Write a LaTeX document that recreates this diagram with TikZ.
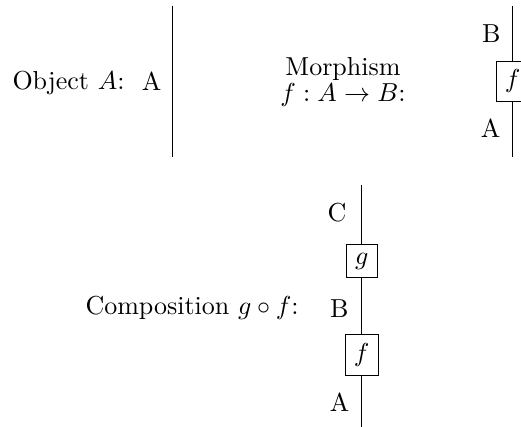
\documentclass[tikz,border=0pt]{standalone}
\begin{document}
\begin{tikzpicture}[x=0.3846pt,y=-0.3846pt,
  wire/.style={line width=0.4pt},
  morph/.style={draw, fill=white, inner sep=3.33pt},
  lbl/.style={anchor=base east, inner sep=0pt},
  caption/.style={anchor=base west, inner sep=0pt}]
\useasboundingbox (0,0) rectangle (521,427);
% ---- panel 1: object
\node[caption] (objtxt) at (12,89) {Object $A$:};
\coordinate (p1top) at (172.3,6);
\coordinate (p1bot) at (172.3,157);
\draw[wire] (p1top) -- (p1bot);
\node[lbl] (p1A) at (162,91) {A};
% ---- panel 2: morphism
\node[align=center, inner sep=0pt] (mortxt) at (343,82) {Morphism\\[-1.7pt] $f:A\to B$:};
\coordinate (p2top) at (512.7,6);
\coordinate (p2bot) at (512.7,157);
\node[morph] (p2f) at (512.7,81.3) {$f$};
\draw[wire] (p2top) -- (p2f);
\draw[wire] (p2f) -- (p2bot);
\node[lbl] (p2B) at (501,43) {B};
\node[lbl] (p2A) at (501,138) {A};
% ---- panel 3: composition
\node[caption] (comptxt) at (85,315) {Composition $g\circ f$:};
\coordinate (p3top) at (361.7,185);
\coordinate (p3bot) at (361.7,430);
\node[morph] (p3g) at (361.7,261) {$g$};
\node[morph] (p3f) at (361.7,355) {$f$};
\draw[wire] (p3top) -- (p3g);
\draw[wire] (p3g) -- (p3f);
\draw[wire] (p3f) -- (p3bot);
\node[lbl] (p3C) at (347,222) {C};
\node[lbl] (p3B) at (349,318) {B};
\node[lbl] (p3A) at (350,412) {A};
\end{tikzpicture}
\end{document}
